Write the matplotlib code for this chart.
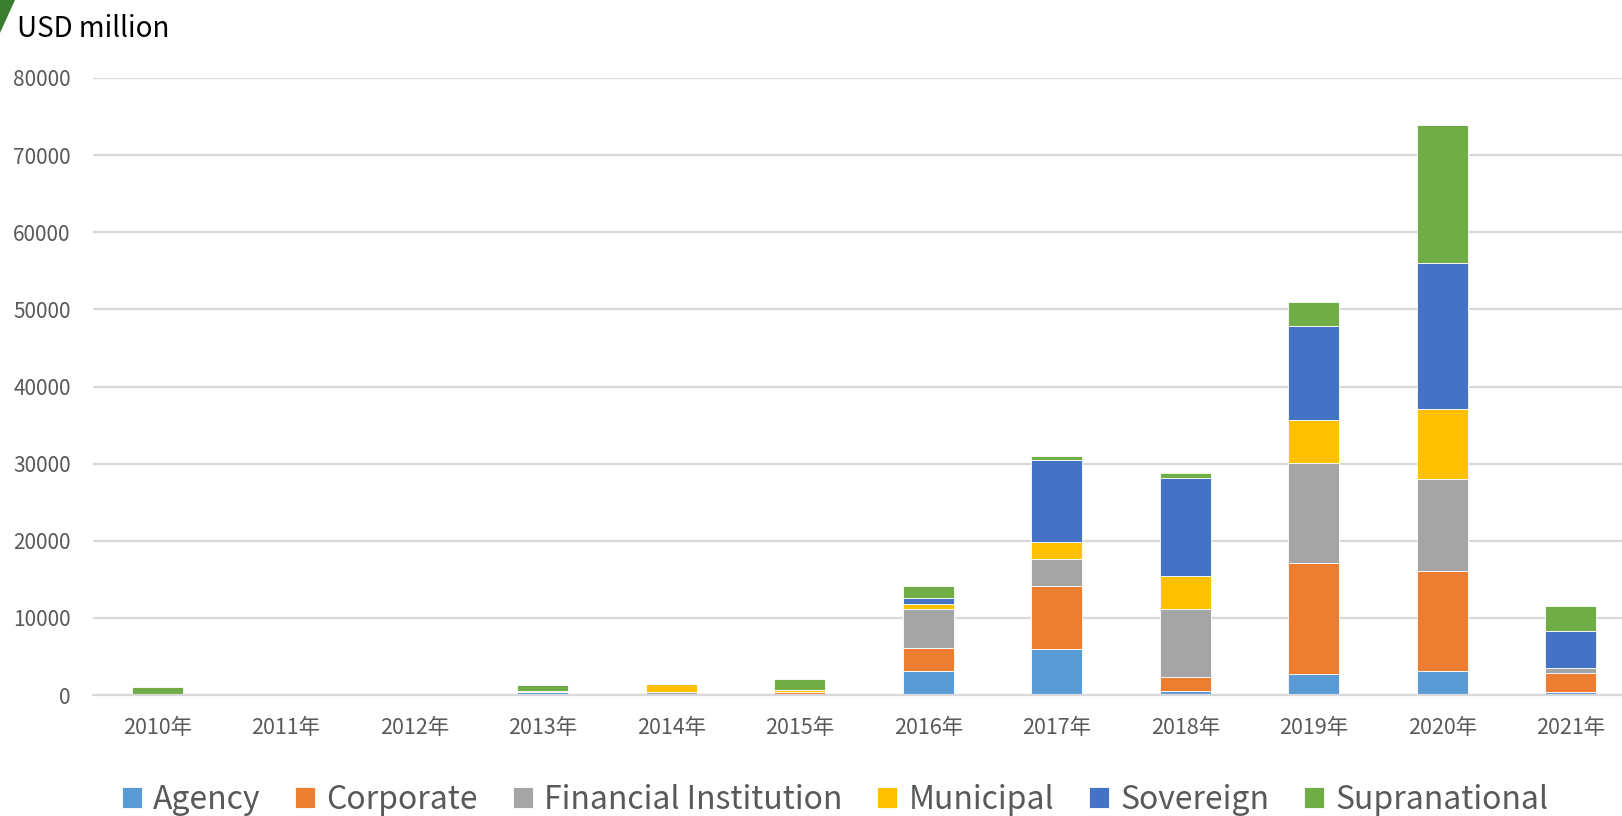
import matplotlib
matplotlib.use("Agg")
import matplotlib.pyplot as plt
from matplotlib.patches import Polygon
import numpy as np

plt.rcParams['font.family'] = ['Noto Sans CJK JP', 'DejaVu Sans']

years = ["2010年", "2011年", "2012年", "2013年", "2014年", "2015年",
         "2016年", "2017年", "2018年", "2019年", "2020年", "2021年"]

agency        = [0, 0, 0, 430, 0, 0, 3070, 5930, 560, 2770, 3110, 430]
corporate     = [0, 0, 0, 0, 130, 430, 2980, 8250, 1810, 14390, 13010, 2460]
financial     = [0, 0, 0, 0, 300, 0, 5100, 3500, 8820, 12970, 11930, 650]
municipal     = [0, 0, 0, 130, 1000, 220, 690, 2160, 4200, 5500, 9040, 0]
sovereign     = [0, 0, 0, 0, 0, 0, 780, 10680, 12790, 12270, 18980, 4800]
supranational = [1040, 0, 60, 690, 0, 1390, 1480, 440, 610, 3030, 17830, 3160]

series_names = ["Agency", "Corporate", "Financial Institution",
                "Municipal", "Sovereign", "Supranational"]
series_values = [agency, corporate, financial, municipal, sovereign, supranational]
series_colors = ["#5B9BD5", "#ED7D31", "#A5A5A5", "#FFC000", "#4472C4", "#70AD47"]

y_ticks = [0, 10000, 20000, 30000, 40000, 50000, 60000, 70000, 80000]

W, H = 1622, 816
fig = plt.figure(figsize=(W / 100, H / 100), dpi=100)
ax = fig.add_axes([93 / W, (H - 695) / H, (1635 - 93) / W, (695 - 78) / H])

x = np.arange(len(years))
bottom = np.zeros(len(years))
handles = []
for name, vals, col in zip(series_names, series_values, series_colors):
    vals = np.array(vals, dtype=float)
    b = ax.bar(x, vals, width=0.4, bottom=bottom, color=col,
               edgecolor="white", linewidth=0.6, label=name, zorder=3)
    handles.append(b)
    bottom += vals

ax.set_xlim(-0.5, len(years) - 0.5)
ax.set_ylim(0, 80000)
ax.set_yticks(y_ticks)
ax.set_yticklabels([str(v) for v in y_ticks])
ax.set_xticks(x)
ax.set_xticklabels(years)

ax.grid(axis="y", color="#D9D9D9", linewidth=1.6, zorder=0)
ax.set_axisbelow(True)
for side in ["top", "right", "left"]:
    ax.spines[side].set_visible(False)
ax.spines["bottom"].set_color("#D9D9D9")
ax.spines["bottom"].set_linewidth(1.6)
ax.spines["bottom"].set_zorder(4)

ax.tick_params(axis="both", length=0, labelsize=15.5, labelcolor="#595959")
ax.tick_params(axis="y", labelsize=15, pad=16)
ax.tick_params(axis="x", pad=16)

fig.text(17 / W, 1 - 37 / H, "USD million", fontsize=20, color="#000000",
         ha="left", va="baseline")

# corner accent
fig.patches.append(Polygon([(0, 1), (15 / W, 1), (0, 1 - 33 / H)], closed=True,
                           transform=fig.transFigure, facecolor="#3B7D2E",
                           edgecolor="none"))

fig.legend(handles=handles, labels=series_names, loc="center",
           bbox_to_anchor=(835 / W, 1 - 800 / H), ncol=6, frameon=False,
           fontsize=23, labelcolor="#595959", handlelength=0.62,
           handleheight=0.62, handletextpad=0.35, columnspacing=1.1,
           borderaxespad=0, borderpad=0)

fig.savefig("out.png", dpi=100)
